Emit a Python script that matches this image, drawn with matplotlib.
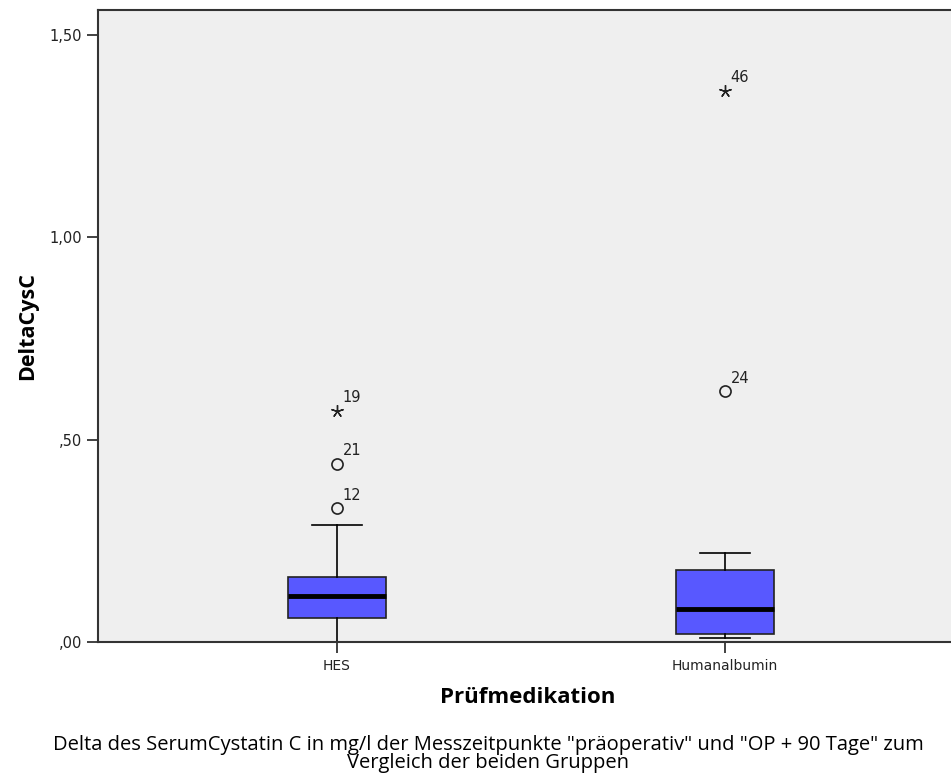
import matplotlib.pyplot as plt
from matplotlib.ticker import FuncFormatter

groups = ["HES", "Humanalbumin"]
q1 = [0.059, 0.020]
medians = [0.114, 0.082]
q3 = [0.161, 0.178]
whisker_low = [0.000, 0.010]
whisker_high = [0.289, 0.220]

# outliers per group: (value, case number, extreme?)
outliers = [
    [(0.331, "12", False), (0.440, "21", False), (0.571, "19", True)],
    [(0.620, "24", False), (1.362, "46", True)],
]

box_color = "#5858FF"
bg_color = "#EFEFEF"


def spss_fmt(v, _):
    s = ("%.2f" % v).replace(".", ",")
    return s[1:] if s.startswith("0") else s


fig = plt.figure(figsize=(9.51, 7.78), dpi=100)
ax = fig.add_axes([98 / 951, 136 / 778, 860 / 951, 632 / 778])
ax.set_facecolor(bg_color)

positions = [1, 2]
stats = []
for i, g in enumerate(groups):
    stats.append({
        "label": g, "q1": q1[i], "med": medians[i], "q3": q3[i],
        "whislo": whisker_low[i], "whishi": whisker_high[i], "fliers": [],
    })

ax.bxp(
    stats, positions=positions, widths=0.253, patch_artist=True, showfliers=False,
    boxprops=dict(facecolor=box_color, edgecolor="#222222", linewidth=1.2),
    medianprops=dict(color="black", linewidth=3.5),
    whiskerprops=dict(color="black", linewidth=1.2),
    capprops=dict(color="black", linewidth=1.2),
    capwidths=0.13,
)

for pos, pts in zip(positions, outliers):
    for val, case, extreme in pts:
        if extreme:
            ax.plot(pos, val, marker=(5, 2), markersize=9,
                    markeredgecolor="#222222", markeredgewidth=1.0, zorder=4)
        else:
            ax.plot(pos, val, marker="o", markersize=8, markerfacecolor="none",
                    markeredgecolor="#222222", markeredgewidth=1.2, zorder=4)
        ax.annotate(case, (pos, val), xytext=(4, 4), textcoords="offset points",
                    fontsize=10.5, color="#222222", ha="left", va="bottom")

ax.set_xlim(0.384, 2.6)
ax.set_ylim(0, 1.562)
ax.set_yticks([0, 0.5, 1.0, 1.5])
ax.yaxis.set_major_formatter(FuncFormatter(spss_fmt))
ax.set_xticks(positions)
ax.set_xticklabels(groups)

for side in ["left", "bottom", "top"]:
    ax.spines[side].set_linewidth(1.5)
    ax.spines[side].set_color("#333333")
ax.spines["right"].set_visible(False)

ax.tick_params(axis="both", direction="out", length=8, width=1.3, color="#333333",
               labelsize=10.5, labelcolor="#222222")
ax.tick_params(axis="x", labelsize=10, pad=4)

ax.set_ylabel("DeltaCysC", fontsize=15.5, fontweight="bold", family="Open Sans", labelpad=8)
ax.set_xlabel("Prüfmedikation", fontsize=16, fontweight="bold", family="Open Sans", labelpad=10)

fig.text(488 / 951, 1 - 754 / 778,
         "Delta des SerumCystatin C in mg/l der Messzeitpunkte \"präoperativ\" und \"OP + 90 Tage\" zum\n"
         "Vergleich der beiden Gruppen",
         ha="center", va="center", fontsize=14.5, family="Open Sans", linespacing=0.9)

fig.savefig("out.png", dpi=100)
